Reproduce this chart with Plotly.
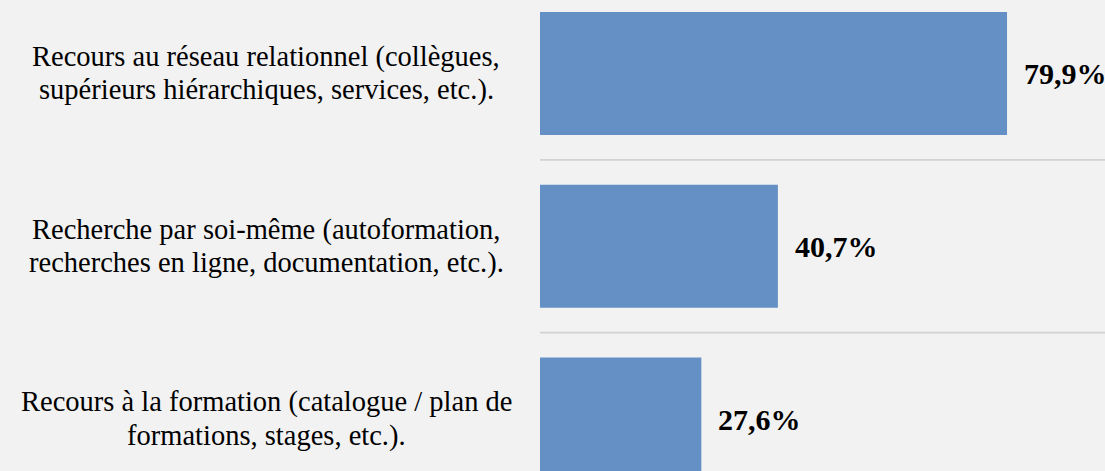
import plotly.graph_objects as go

categories = [
    "Recours au réseau relationnel (collègues,<br>supérieurs hiérarchiques, services, etc.).",
    "Recherche par soi-même (autoformation,<br>recherches en ligne, documentation, etc.).",
    "Recours à la formation (catalogue / plan de<br>formations, stages, etc.).",
]
values = [79.9, 40.7, 27.6]
value_labels = ["79,9%", "40,7%", "27,6%"]

positions = list(range(len(categories)))
SERIF = "Times New Roman, Liberation Serif, serif"

fig = go.Figure()
fig.add_trace(go.Bar(
    x=values,
    y=positions,
    orientation="h",
    marker=dict(color="#6590c6", line=dict(width=0)),
    width=0.712,
    hoverinfo="skip",
))

line_gap = 33.5
for p, v, t in zip(positions, values, value_labels):
    fig.add_annotation(
        x=v, y=p, text="<b>" + t + "</b>", showarrow=False, xanchor="left", yanchor="middle",
        xshift=15, font=dict(family=SERIF, size=30, color="#000000"),
    )
    lines = categories[p].split("<br>")
    n = len(lines)
    for i, ln in enumerate(lines):
        fig.add_annotation(
            x=-0.4845, xref="paper", y=p, yref="y", text=ln, showarrow=False,
            xanchor="center", yanchor="middle", align="center",
            yshift=((n - 1) / 2 - i) * line_gap,
            font=dict(family=SERIF, size=28.5, color="#000000"),
        )

# separator lines between categories
for b in [0.5, 1.5]:
    fig.add_shape(type="line", xref="paper", x0=0, x1=1, yref="y", y0=b, y1=b,
                  line=dict(color="#d2d2d2", width=1.6), layer="below")

fig.update_layout(
    width=1105, height=471,
    margin=dict(l=540, r=0, t=0, b=0),
    paper_bgcolor="#f2f2f2",
    plot_bgcolor="#f2f2f2",
    showlegend=False,
    xaxis=dict(range=[0, 96.66], visible=False, fixedrange=True),
    yaxis=dict(range=[2.301, -0.4255], visible=False, fixedrange=True),
)

fig.write_html("out.html", config={"displayModeBar": False},
               post_script="document.body.style.margin='0';document.body.style.background='#f2f2f2';")
